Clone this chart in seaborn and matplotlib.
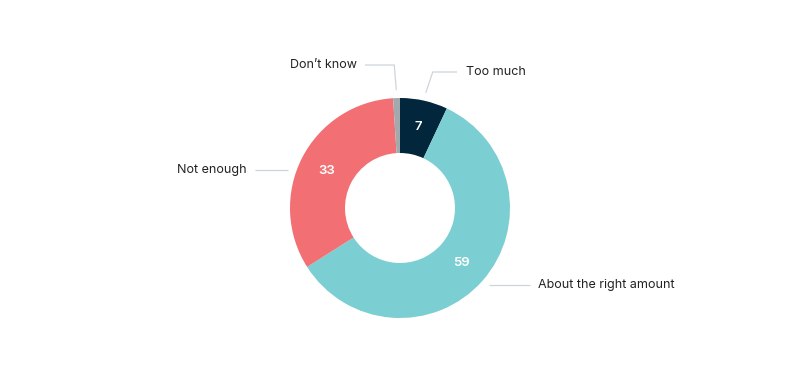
import numpy as np
import matplotlib
matplotlib.use("Agg")
import matplotlib.pyplot as plt
import seaborn as sns

categories = ["Too much", "About the right amount", "Not enough", "Don\u2019t know"]
values = [7, 59, 33, 1]
colors = ["#02263b", "#7bced1", "#f27074", "#a4a9ad"]
show_value = [True, True, True, False]

# label layout in pixels (x of text, y of text, alignment, end x of connector)
label_layout = {
    "Too much": (466, 72, "left", 457),
    "About the right amount": (538, 285, "left", 530),
    "Not enough": (247, 170, "right", 255),
    "Don\u2019t know": (357, 65, "right", 365),
}

sns.set_style("white")
plt.rcParams["font.family"] = ["Inter", "DejaVu Sans"]

W, H = 800, 370
fig = plt.figure(figsize=(W / 100, H / 100), dpi=100)
ax = fig.add_axes([0, 0, 1, 1])

cx, cy_px = 400, 208
cy = H - cy_px
r_out, r_in = 110, 55

wedges, _ = ax.pie(values, colors=colors, startangle=90, counterclock=False,
                   radius=r_out, center=(cx, cy),
                   wedgeprops=dict(width=r_out - r_in, linewidth=0))

total = sum(values)
cum = 0
for cat, v, show in zip(categories, values, show_value):
    mid = (cum + v / 2) / total * 2 * np.pi
    cum += v
    dx, dy = np.sin(mid), np.cos(mid)
    if show:
        rm = (r_out + r_in) / 2
        ax.text(cx + rm * dx, cy + rm * dy, str(v), color="white", fontsize=9.5,
                fontweight="semibold", ha="center", va="center")
    tx, ty_px, ha, lx = label_layout[cat]
    ty = H - ty_px
    r_c = r_out + 8
    if abs(ty - cy) < r_c * 0.8 and abs(dx) > 0.6:
        # horizontal connector at label height
        sx = cx + np.sign(dx) * np.sqrt(r_c ** 2 - (ty - cy) ** 2)
        xs, ys = [sx, lx], [ty, ty]
    else:
        sx, sy = cx + r_c * dx, cy + r_c * dy
        ex = sx + np.sign(dx) * 7 if abs(dx) > 0.1 else sx - 2
        xs, ys = [sx, ex, lx], [sy, ty, ty]
    ax.plot(xs, ys, color="#cdd5dc", linewidth=0.9, solid_capstyle="butt")
    ax.text(tx, ty, cat, color="#222222", fontsize=9, ha=ha, va="center")

ax.set_xlim(0, W)
ax.set_ylim(0, H)
ax.set_aspect("equal")
ax.axis("off")
fig.savefig("out.png", dpi=100, facecolor="white")
